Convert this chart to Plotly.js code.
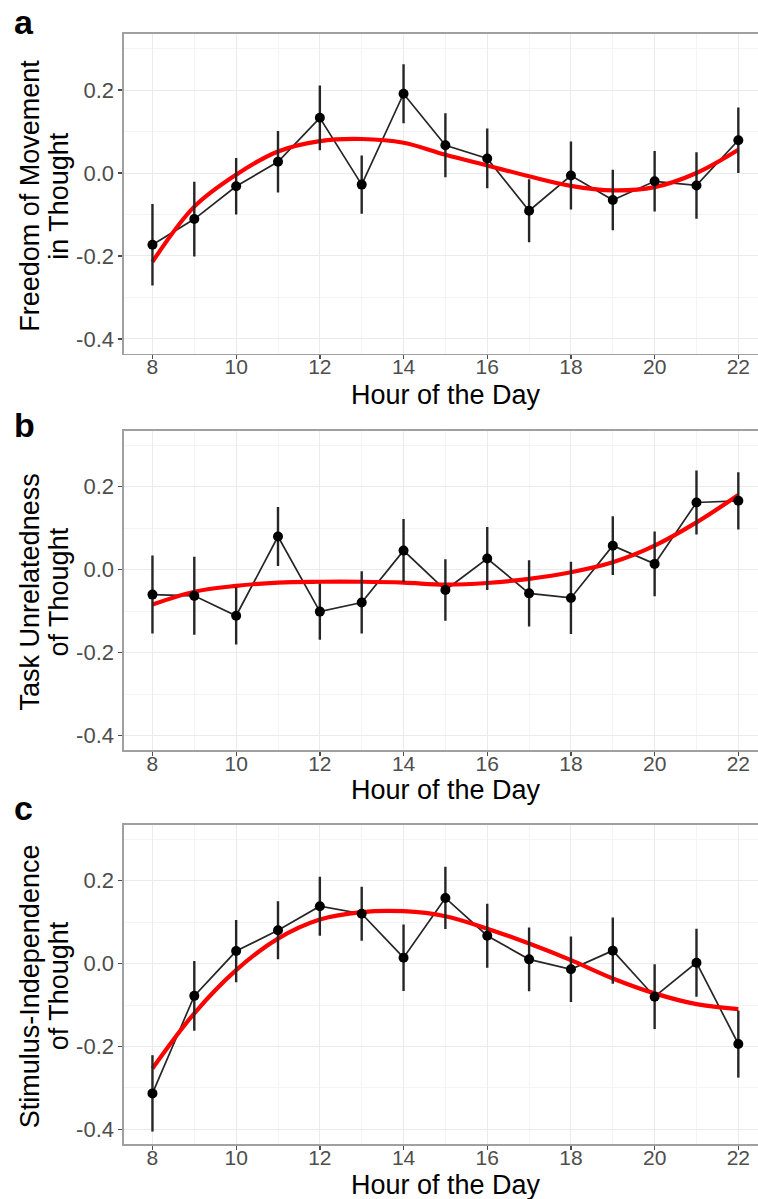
<!DOCTYPE html>
<html>
<head>
<meta charset="utf-8">
<script src="https://cdn.plot.ly/plotly-3.0.1.min.js"></script>
<style>
html,body{margin:0;padding:0;background:#fff;}
#chart{width:758px;height:1199px;}
</style>
</head>
<body>
<div id="chart"></div>
<script>
// ---- data ----
const hours = [8, 9, 10, 11, 12, 13, 14, 15, 16, 17, 18, 19, 20, 21, 22];
const xTickVals = [8, 10, 12, 14, 16, 18, 20, 22];
const xMinorVals = [9, 11, 13, 15, 17, 19, 21];
const yTickVals = [-0.4, -0.2, 0.0, 0.2];
const yTickText = ["-0.4", "-0.2", "0.0", "0.2"];
const yMinorVals = [-0.3, -0.1, 0.1, 0.3];

const panelLetters = ["a", "b", "c"];
const xTitle = "Hour of the Day";
const yTitleLines = [
  ["Freedom of Movement", "in Thought"],
  ["Task Unrelatedness", "of Thought"],
  ["Stimulus-Independence", "of Thought"]
];

const freedomMean   = [-0.173, -0.111, -0.032, 0.027, 0.133, -0.028, 0.191, 0.067, 0.035, -0.091, -0.006, -0.065, -0.020, -0.030, 0.079];
const freedomSE     = [0.098, 0.090, 0.068, 0.074, 0.078, 0.070, 0.071, 0.077, 0.072, 0.076, 0.082, 0.073, 0.073, 0.080, 0.079];
const freedomSmooth = [-0.214, -0.081, -0.004, 0.052, 0.077, 0.082, 0.073, 0.044, 0.018, -0.008, -0.031, -0.042, -0.034, 0.000, 0.056];

const taskMean   = [-0.060, -0.063, -0.111, 0.080, -0.101, -0.079, 0.046, -0.049, 0.027, -0.057, -0.068, 0.058, 0.014, 0.162, 0.166];
const taskSE     = [0.094, 0.094, 0.069, 0.071, 0.068, 0.075, 0.076, 0.074, 0.076, 0.080, 0.087, 0.071, 0.078, 0.077, 0.069];
const taskSmooth = [-0.084, -0.053, -0.039, -0.031, -0.029, -0.029, -0.031, -0.036, -0.032, -0.022, -0.006, 0.018, 0.058, 0.114, 0.180];

const stimMean   = [-0.313, -0.078, 0.030, 0.080, 0.138, 0.120, 0.014, 0.158, 0.067, 0.010, -0.014, 0.031, -0.080, 0.002, -0.194];
const stimSE     = [0.092, 0.084, 0.075, 0.070, 0.071, 0.065, 0.080, 0.075, 0.077, 0.077, 0.079, 0.080, 0.078, 0.082, 0.081];
const stimSmooth = [-0.253, -0.120, -0.016, 0.060, 0.106, 0.124, 0.126, 0.114, 0.084, 0.048, 0.008, -0.036, -0.072, -0.098, -0.110];

const panels = [
  {mean: freedomMean, se: freedomSE, smooth: freedomSmooth},
  {mean: taskMean, se: taskSE, smooth: taskSmooth},
  {mean: stimMean, se: stimSE, smooth: stimSmooth}
];

// ---- layout geometry (pixels) ----
const W = 758, H = 1199;
const plotLeft = 124;
const panelTops = [34, 430.7, 824.5];
const panelBottoms = [353.5, 750.2, 1144];
const px = v => v / W;
const py = v => 1 - v / H;

const traces = [];
const layout = {
  width: W, height: H,
  margin: {l: 0, r: 0, t: 0, b: 0},
  paper_bgcolor: '#ffffff',
  plot_bgcolor: '#ffffff',
  showlegend: false,
  font: {family: 'Liberation Sans, Arial, sans-serif', color: '#4d4d4d'},
  annotations: []
};

panels.forEach((p, i) => {
  const sfx = i === 0 ? '' : String(i + 1);
  const xa = 'x' + sfx, ya = 'y' + sfx;
  traces.push({
    x: hours, y: p.mean, xaxis: xa, yaxis: ya,
    type: 'scatter', mode: 'lines',
    line: {color: '#262626', width: 1.7},
    hoverinfo: 'skip'
  });
  traces.push({
    x: hours, y: p.smooth, xaxis: xa, yaxis: ya,
    type: 'scatter', mode: 'lines',
    line: {color: '#ff0000', width: 4.2, shape: 'spline', smoothing: 1},
    hoverinfo: 'skip'
  });
  traces.push({
    x: hours, y: p.mean, xaxis: xa, yaxis: ya,
    type: 'scatter', mode: 'markers',
    marker: {color: '#000000', size: 10},
    error_y: {type: 'data', array: p.se, visible: true, color: '#262626', thickness: 2.4, width: 0}
  });

  layout['xaxis' + sfx] = {
    domain: [px(plotLeft), 1],
    anchor: ya,
    range: [7.32, 22.47],
    tickmode: 'array', tickvals: xTickVals, ticktext: xTickVals.map(String),
    ticks: 'outside', ticklen: 4, tickwidth: 1.3, tickcolor: '#4d4d4d',
    ticklabelstandoff: -10,
    tickfont: {size: 21, color: '#4d4d4d'},
    showgrid: true, gridcolor: '#ebebeb', gridwidth: 1,
    minor: {tickmode: 'array', tickvals: xMinorVals, showgrid: true, gridcolor: '#f4f4f4', gridwidth: 1, ticks: ''},
    showline: true, mirror: true, linecolor: '#a0a0a0', linewidth: 1.6,
    zeroline: false, fixedrange: true
  };
  layout['yaxis' + sfx] = {
    domain: [py(panelBottoms[i]), py(panelTops[i])],
    anchor: xa,
    range: [-0.435, 0.335],
    tickmode: 'array', tickvals: yTickVals, ticktext: yTickText,
    ticks: 'outside', ticklen: 4, tickwidth: 1.3, tickcolor: '#4d4d4d',
    tickfont: {size: 22, color: '#4d4d4d'},
    showgrid: true, gridcolor: '#ebebeb', gridwidth: 1,
    minor: {tickmode: 'array', tickvals: yMinorVals, showgrid: true, gridcolor: '#f4f4f4', gridwidth: 1, ticks: ''},
    showline: true, mirror: false, linecolor: '#a0a0a0', linewidth: 1.6,
    zeroline: false, fixedrange: true
  };

  const centerY = (panelTops[i] + panelBottoms[i]) / 2;
  // panel letter
  const letterCenters = [21.5, 425.5, 808];
  layout.annotations.push({
    text: '<b>' + panelLetters[i] + '</b>', xref: 'paper', yref: 'paper',
    x: px(12), y: py(letterCenters[i]), xanchor: 'left', yanchor: 'middle',
    showarrow: false, font: {size: 34, color: '#000000', family: 'Liberation Sans, Arial, sans-serif'}
  });
  // x title
  const xTitleCenters = [395, 790, 1184.5];
  layout.annotations.push({
    text: xTitle, xref: 'paper', yref: 'paper',
    x: px(446), y: py(xTitleCenters[i]), xanchor: 'center', yanchor: 'middle',
    showarrow: false, font: {size: 27, color: '#000000'}
  });
  // y title (two lines)
  const lineX = [30, 59];
  yTitleLines[i].forEach((t, k) => {
    layout.annotations.push({
      text: t, xref: 'paper', yref: 'paper',
      x: px(lineX[k]), y: py(centerY + 2), xanchor: 'center', yanchor: 'middle',
      textangle: -90,
      showarrow: false, font: {size: 27, color: '#000000'}
    });
  });
});

Plotly.newPlot('chart', traces, layout, {displayModeBar: false, staticPlot: true});
</script>
</body>
</html>
